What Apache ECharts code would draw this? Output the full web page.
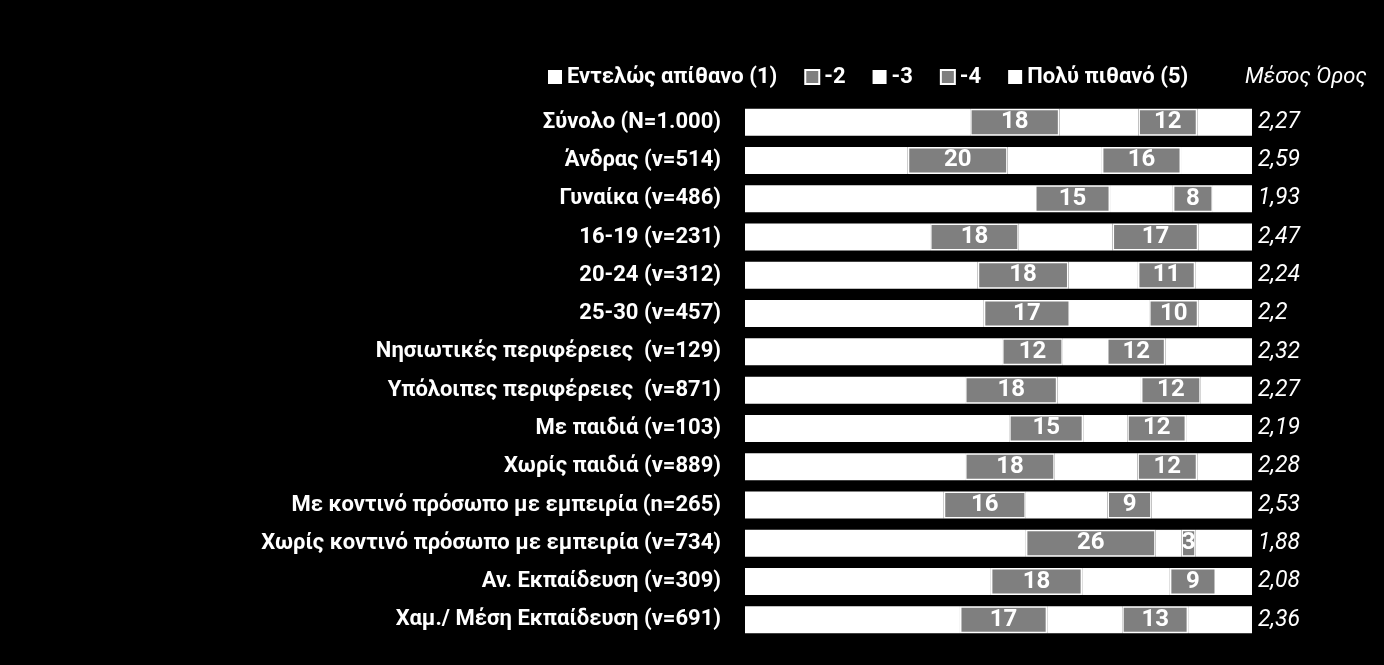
<!DOCTYPE html>
<html><head><meta charset="utf-8">
<script src="https://cdn.jsdelivr.net/npm/echarts@6/dist/echarts.min.js"></script>
<style>html,body{margin:0;padding:0;background:#000;}#c{width:1384px;height:665px;}</style>
</head><body><div id="c"></div>
<script>
const categories = [
  'Σύνολο (N=1.000)', 'Άνδρας (v=514)', 'Γυναίκα (v=486)', '16-19 (v=231)', '20-24 (v=312)',
  '25-30 (v=457)', 'Νησιωτικές περιφέρειες  (v=129)', 'Υπόλοιπες περιφέρειες  (v=871)',
  'Με παιδιά (v=103)', 'Χωρίς παιδιά (v=889)', 'Με κοντινό πρόσωπο με εμπειρία (n=265)',
  'Χωρίς κοντινό πρόσωπο με εμπειρία (v=734)', 'Αν. Εκπαίδευση (v=309)', 'Χαμ./ Μέση Εκπαίδευση (v=691)'
];
const seriesNames = ['Εντελώς απίθανο (1)', '-2', '-3', '-4', 'Πολύ πιθανό (5)'];
const v1 = [44.4, 32.1, 57.2, 36.5, 45.9, 47.1, 50.7, 43.4, 52.1, 43.4, 39.2, 55.4, 48.5, 42.4];
const v2 = [17.6, 19.7, 14.8, 17.5, 17.9, 17.0, 12.0, 18.2, 14.6, 17.7, 16.2, 25.6, 18.0, 17.2];
const v3 = [15.6, 18.6, 12.4, 18.5, 13.7, 15.6, 8.7, 16.5, 8.7, 16.3, 16.1, 5.1, 17.3, 14.8];
const v4 = [11.6, 15.6, 7.9, 16.9, 11.3, 9.7, 11.5, 11.8, 11.6, 11.8, 8.7, 2.8, 9.1, 13.0];
const v5 = [10.8, 14.0, 7.7, 10.6, 11.2, 10.6, 17.1, 10.1, 13.0, 10.8, 19.8, 11.1, 7.1, 12.6];
const means = [2.27, 2.59, 1.93, 2.47, 2.24, 2.2, 2.32, 2.27, 2.19, 2.28, 2.53, 1.88, 2.08, 2.36];

const values = [v1, v2, v3, v4, v5];
const colors = ['#ffffff', '#7f7f7f', '#ffffff', '#7f7f7f', '#ffffff'];
const FONT = 'Roboto';

const chart = echarts.init(document.getElementById('c'));
chart.setOption({
  backgroundColor: '#000',
  animation: false,
  title: {
    text: 'Μέσος Όρος', left: 1240, top: 61,
    textStyle: { color: '#fff', fontFamily: FONT, fontStyle: 'italic', fontWeight: 'normal', fontSize: 22 }
  },
  legend: {
    left: 543, top: 61, itemWidth: 14, itemHeight: 14, itemGap: 27, icon: 'rect',
    data: seriesNames,
    textStyle: { color: '#fff', fontFamily: FONT, fontWeight: 'bold', fontSize: 22 }
  },
  grid: { left: 745, right: 132, top: 103, bottom: 26, containLabel: false },
  xAxis: { type: 'value', min: 0, max: 100, show: false },
  yAxis: [
    {
      type: 'category', data: categories, inverse: true,
      axisLine: { show: false }, axisTick: { show: false },
      axisLabel: { color: '#fff', fontFamily: FONT, fontWeight: 'bold', fontSize: 22, margin: 24 }
    },
    {
      type: 'category', data: means.map(m => String(m).replace('.', ',')), inverse: true, position: 'right',
      axisLine: { show: false }, axisTick: { show: false },
      axisLabel: { color: '#fff', fontFamily: FONT, fontStyle: 'italic', fontSize: 23, margin: 6 }
    }
  ],
  series: seriesNames.map((name, i) => ({
    name, type: 'bar', stack: 'all', data: values[i], barWidth: 27,
    itemStyle: { color: colors[i], borderColor: '#ffffff', borderWidth: i % 2 ? 1.5 : 0 },
    label: {
      show: i % 2 === 1, position: 'inside', color: '#fff', fontFamily: FONT, fontWeight: 'bold', fontSize: 24,
      formatter: p => Math.round(p.value)
    }
  }))
});
</script></body></html>
